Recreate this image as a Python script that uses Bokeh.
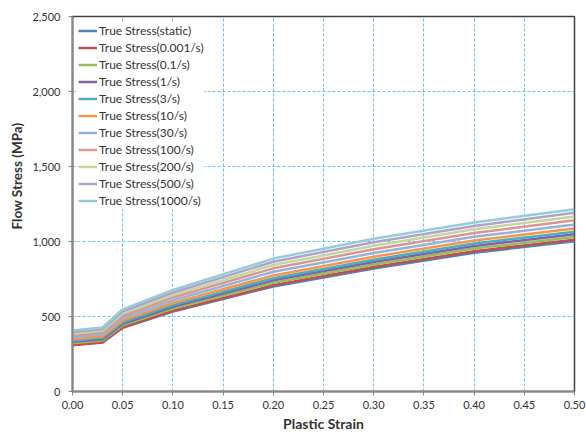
from bokeh.plotting import figure
from bokeh.models import Legend, LegendItem, Title, NumeralTickFormatter, FixedTicker, Range1d
from bokeh.embed import file_html
from bokeh.resources import INLINE

strain = [0.0, 0.03, 0.05, 0.10, 0.20, 0.30, 0.40, 0.50]

series_names = [
    "True Stress(static)", "True Stress(0.001/s)", "True Stress(0.1/s)",
    "True Stress(1/s)", "True Stress(3/s)", "True Stress(10/s)",
    "True Stress(30/s)", "True Stress(100/s)", "True Stress(200/s)",
    "True Stress(500/s)", "True Stress(1000/s)",
]

stress_static = [312, 329, 425, 533, 700, 820, 925, 1002]
stress_0001 = [308, 326, 428, 538, 708, 830, 935, 1012]
stress_01 = [322, 340, 442, 553, 725, 847, 953, 1030]
stress_1 = [331, 349, 452, 565, 741, 864, 970, 1048]
stress_3 = [339, 358, 462, 576, 755, 879, 986, 1065]
stress_10 = [349, 369, 474, 591, 774, 899, 1006, 1087]
stress_30 = [361, 381, 490, 608, 798, 923, 1031, 1114]
stress_100 = [373, 393, 505, 627, 821, 948, 1057, 1142]
stress_200 = [385, 405, 520, 643, 843, 971, 1081, 1167]
stress_500 = [396, 416, 534, 660, 865, 995, 1104, 1192]
stress_1000 = [406, 427, 548, 677, 886, 1018, 1127, 1215]

all_series = [stress_static, stress_0001, stress_01, stress_1, stress_3, stress_10,
              stress_30, stress_100, stress_200, stress_500, stress_1000]

colors = ["#4F81BD", "#C0504D", "#9BBB59", "#8064A2", "#4BACC6", "#F79646",
          "#95B3D7", "#D99694", "#C3D69B", "#B3A2C7", "#93CDDD"]

x_ticks = [0.0, 0.05, 0.10, 0.15, 0.20, 0.25, 0.30, 0.35, 0.40, 0.45, 0.50]
y_ticks = [0, 500, 1000, 1500, 2000, 2500]

FONT = "Lato"
TXT = "#333333"

p = figure(width=586, height=434, output_backend="svg", toolbar_location=None,
           x_range=Range1d(0, 0.5), y_range=Range1d(0, 2500),
           min_border_left=72, min_border_right=12, min_border_top=16, min_border_bottom=42)

p.background_fill_color = "white"
p.outline_line_color = "#404040"
p.outline_line_width = 1.5

for ax in (p.xaxis[0], p.yaxis[0]):
    ax.axis_line_color = "#868686"
    ax.axis_line_width = 2
    ax.major_tick_line_color = "#868686"
    ax.major_tick_out = 4
    ax.major_tick_in = 0
    ax.minor_tick_line_color = None
    ax.major_label_text_font = FONT
    ax.major_label_text_font_size = "11px"
    ax.major_label_text_color = TXT
    ax.axis_label_text_font = FONT
    ax.axis_label_text_font_style = "bold"
    ax.axis_label_text_font_size = "14px"
    ax.axis_label_text_color = TXT

p.xaxis.ticker = FixedTicker(ticks=x_ticks)
p.yaxis.ticker = FixedTicker(ticks=y_ticks)
p.xaxis.formatter = NumeralTickFormatter(format="0.00")
p.yaxis.formatter = NumeralTickFormatter(format="0,0")
p.xaxis.major_label_standoff = 5
p.yaxis.major_label_standoff = 8
p.xaxis.axis_label = "Plastic Strain"
p.xaxis.axis_label_standoff = 3

p.xgrid.ticker = FixedTicker(ticks=x_ticks)
p.ygrid.ticker = FixedTicker(ticks=y_ticks)
for g in (p.xgrid[0], p.ygrid[0]):
    g.grid_line_color = "#66C2E8"
    g.grid_line_dash = "3 2"
    g.grid_line_width = 1

items = []
for name, vals, c in zip(series_names, all_series, colors):
    r = p.line(strain, vals, line_color=c, line_width=2.5)
    items.append(LegendItem(label=name, renderers=[r]))

legend = Legend(items=items, location="top_left")
legend.background_fill_color = "white"
legend.background_fill_alpha = 1
legend.border_line_color = None
legend.label_text_font = FONT
legend.label_text_font_size = "12px"
legend.label_text_color = TXT
legend.glyph_width = 19
legend.glyph_height = 17
legend.label_height = 17
legend.spacing = 0
legend.padding = 5
legend.margin = 6
legend.label_standoff = 2
p.add_layout(legend)

ytitle = Title(text="Flow Stress (MPa)", align="left", offset=162, standoff=10,
               text_font=FONT, text_font_style="bold", text_font_size="13.5px",
               text_color=TXT)
p.add_layout(ytitle, "left")

open("out.html", "w").write(file_html(p, INLINE))
